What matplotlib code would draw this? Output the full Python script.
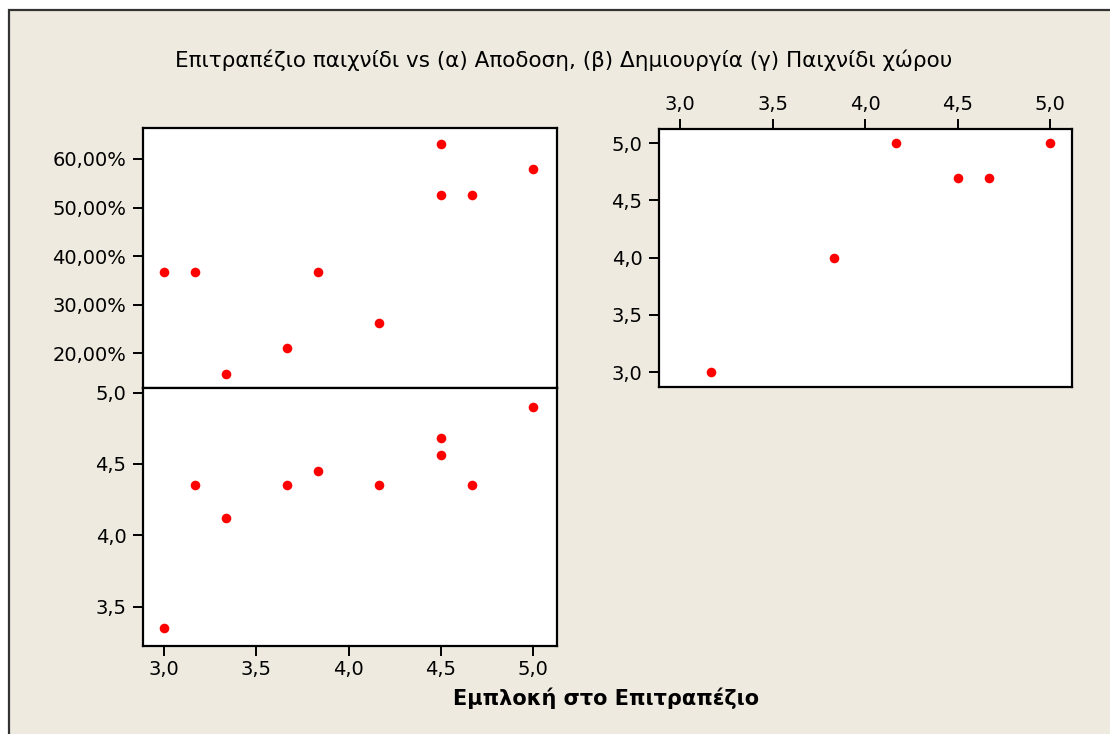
import matplotlib
matplotlib.use("Agg")
import matplotlib.pyplot as plt
from matplotlib.patches import Rectangle
from matplotlib.ticker import FuncFormatter, FixedLocator

# Engagement with board games (x) for the two left panels
engagement = [3.0, 3.1667, 3.3333, 3.6667, 3.8333, 4.1667, 4.5, 4.5, 4.6667, 5.0]
# (a) performance, in percent
performance = [36.84, 36.84, 15.79, 21.05, 36.84, 26.32, 63.16, 52.63, 52.63, 57.89]
# (b) creativity score
creativity = [3.35, 4.35, 4.12, 4.35, 4.45, 4.35, 4.68, 4.56, 4.35, 4.90]
# (c) play-space score, available for a subset of respondents
engagement_c = [3.1667, 3.8333, 4.1667, 4.5, 4.6667, 5.0]
play_space = [3.0, 4.0, 5.0, 4.7, 4.7, 5.0]

x_ticks = [3.0, 3.5, 4.0, 4.5, 5.0]
perf_ticks = [20, 30, 40, 50, 60]
score_ticks_b = [3.5, 4.0, 4.5, 5.0]
score_ticks_c = [3.0, 3.5, 4.0, 4.5, 5.0]

title = "Επιτραπέζιο παιχνίδι vs (α) Αποδοση, (β) Δημιουργία (γ) Παιχνίδι χώρου"
xlabel = "Εμπλοκή στο Επιτραπέζιο"

BG = "#EEEAE0"
RED = "#FF0000"
W, H = 1110, 734

plt.rcParams["font.family"] = ["DejaVu Sans"]
fig = plt.figure(figsize=(W / 100, H / 100), dpi=100, facecolor="white")

# beige graph region with a dark frame on its left and top edges
fig.add_artist(Rectangle((9 / W, -0.05), 1.1, 1 - 10 / H + 0.05,
                         transform=fig.transFigure, facecolor=BG,
                         edgecolor="#333333", linewidth=1.6, zorder=-10))


def box(x0, y0, x1, y1):
    return [x0 / W, 1 - y1 / H, (x1 - x0) / W, (y1 - y0) / H]


comma = FuncFormatter(lambda v, p: f"{v:.1f}".replace(".", ","))
pct = FuncFormatter(lambda v, p: f"{v:.2f}".replace(".", ",") + "%")


def style(ax):
    ax.set_facecolor("white")
    for s in ax.spines.values():
        s.set_linewidth(1.6)
        s.set_color("black")
    ax.tick_params(direction="out", length=7, width=1.4, labelsize=14,
                   colors="black", pad=5)


ax_a = fig.add_axes(box(143, 128, 557, 388))
ax_b = fig.add_axes(box(143, 388, 557, 646))
ax_c = fig.add_axes(box(659, 129, 1072, 387))

for ax in (ax_a, ax_b, ax_c):
    style(ax)

# (a) performance
ax_a.scatter(engagement, performance, s=48, color=RED, zorder=3, linewidths=0)
ax_a.set_xlim(2.886, 5.128)
ax_a.set_ylim(12.86, 66.38)
ax_a.yaxis.set_major_locator(FixedLocator(perf_ticks))
ax_a.yaxis.set_major_formatter(pct)
ax_a.tick_params(axis="x", bottom=False, labelbottom=False)

# (b) creativity
ax_b.scatter(engagement, creativity, s=48, color=RED, zorder=3, linewidths=0)
ax_b.set_xlim(2.886, 5.128)
ax_b.set_ylim(3.225, 5.032)
ax_b.xaxis.set_major_locator(FixedLocator(x_ticks))
ax_b.yaxis.set_major_locator(FixedLocator(score_ticks_b))
ax_b.xaxis.set_major_formatter(comma)
ax_b.yaxis.set_major_formatter(comma)
ax_b.tick_params(axis="x", pad=3)

# (c) play space, x axis on top
ax_c.scatter(engagement_c, play_space, s=48, color=RED, zorder=3, linewidths=0)
ax_c.set_xlim(2.886, 5.117)
ax_c.set_ylim(2.869, 5.125)
ax_c.xaxis.set_major_locator(FixedLocator(x_ticks))
ax_c.yaxis.set_major_locator(FixedLocator(score_ticks_c))
ax_c.xaxis.set_major_formatter(comma)
ax_c.yaxis.set_major_formatter(comma)
ax_c.xaxis.tick_top()
ax_c.tick_params(axis="x", top=True, bottom=False, labeltop=True,
                 labelbottom=False, pad=4)

fig.text(564 / W, 1 - 67 / H, title, ha="center", va="baseline",
         fontsize=15.5, color="black")
fig.text(606 / W, 1 - 705 / H, xlabel, ha="center", va="baseline",
         fontsize=15, fontweight="bold", color="black")

fig.savefig("out.png", dpi=100, facecolor=fig.get_facecolor())
